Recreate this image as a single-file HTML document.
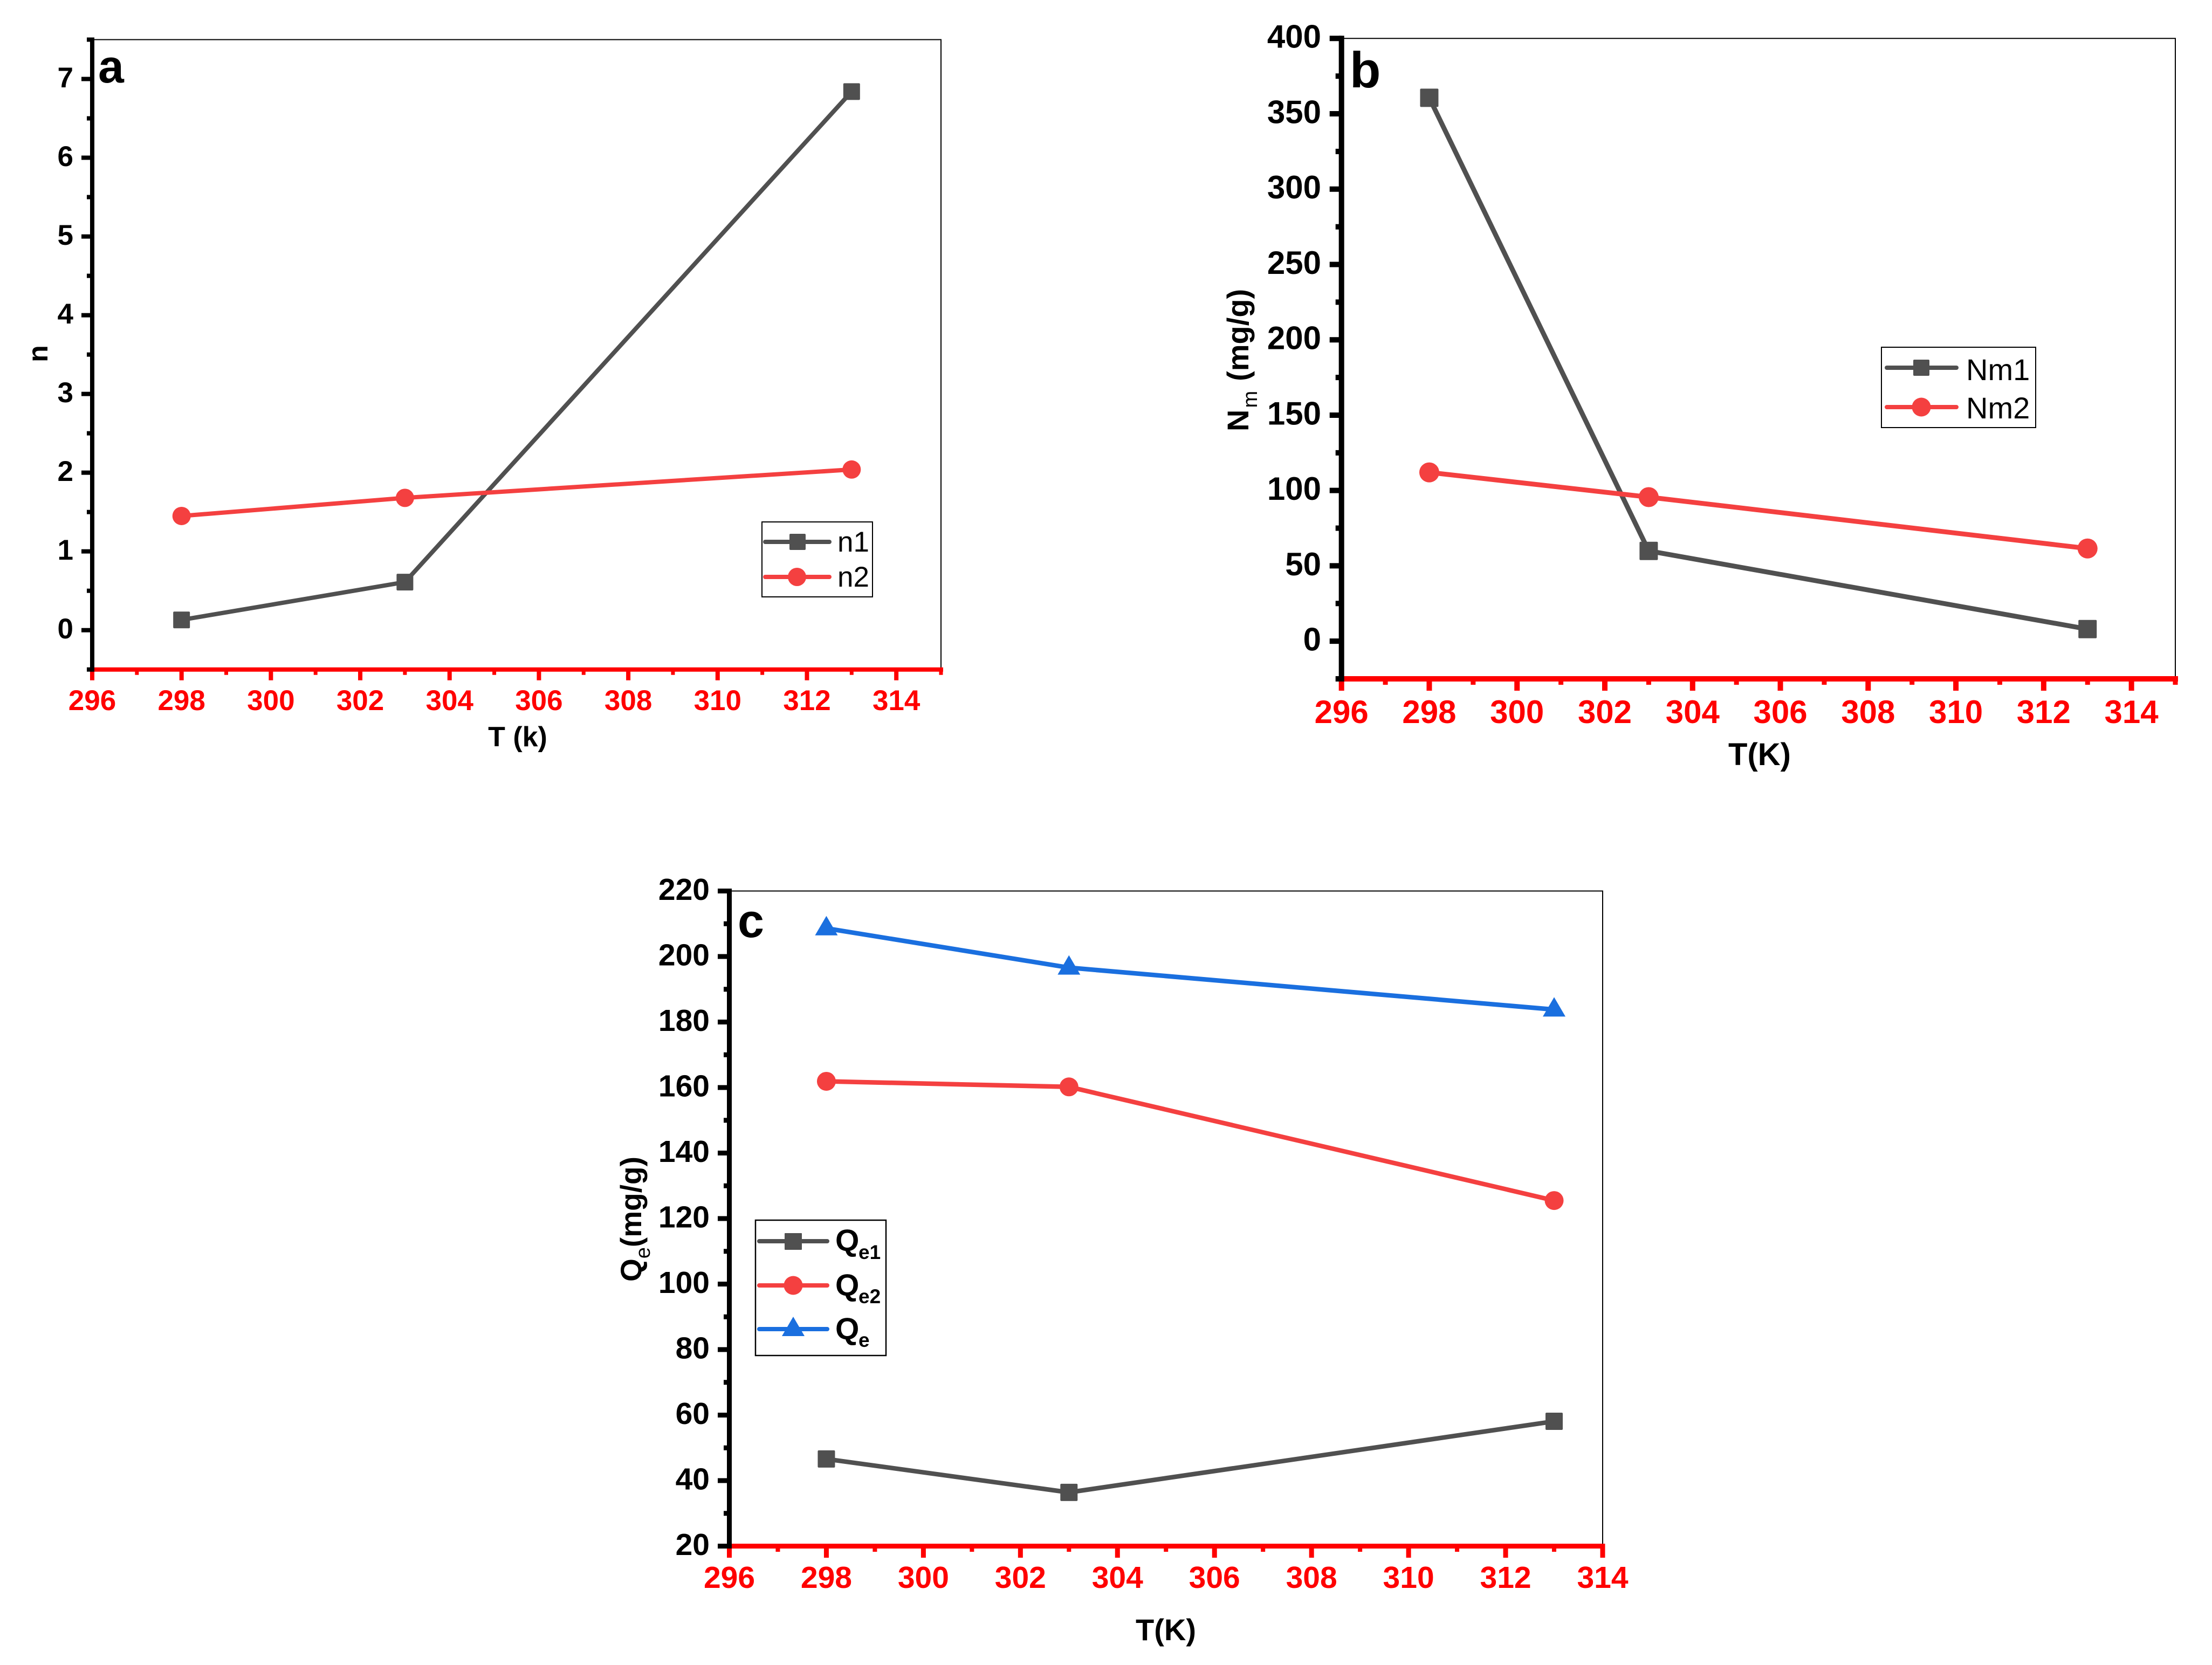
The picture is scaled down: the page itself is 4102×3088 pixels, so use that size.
<!DOCTYPE html>
<html lang="en">
<head>
<meta charset="utf-8">
<title>Isotherm parameters versus temperature</title>
<style>
html,body{margin:0;padding:0;background:#fff;}
svg{display:block;}
text{font-family:"Liberation Sans",sans-serif;fill:#000;}
.b{font-weight:bold;}
</style>
</head>
<body>
<svg id="figure" xmlns="http://www.w3.org/2000/svg" width="4102" height="3088" viewBox="0 0 4102 3088">
  <rect x="0" y="0" width="4102" height="3088" fill="#fff"/>
  <g id="panel-a"></g>
  <g id="panel-b"></g>
  <g id="panel-c"></g>

  <!-- panel a text -->
  <text class="b" x="182" y="153" font-size="86">a</text>
  <text class="b" x="960" y="1384" font-size="52" text-anchor="middle">T (k)</text>
  <text class="b" transform="translate(88,656) rotate(-90)" font-size="52" text-anchor="middle">n</text>
  <g>
    <rect x="1413" y="968" width="205" height="139" fill="#fff" stroke="#000" stroke-width="2"/>
    <g>
      <line x1="1419" y1="1005" x2="1538" y2="1005" stroke="#505050" stroke-width="8" stroke-linecap="round"/>
      <rect x="1464" y="990" width="30" height="30" rx="2" fill="#505050"/>
      <text x="1553" y="1023" font-size="53">n1</text>
    </g>
    <g>
      <line x1="1419" y1="1070" x2="1538" y2="1070" stroke="#f44040" stroke-width="8" stroke-linecap="round"/>
      <circle cx="1478" cy="1070" r="17" fill="#f44040"/>
      <text x="1553" y="1088" font-size="53">n2</text>
    </g>
  </g>

  <!-- panel b text -->
  <text class="b" x="2503" y="162" font-size="94">b</text>
  <text class="b" x="3263" y="1419" font-size="58" text-anchor="middle">T(K)</text>
  <text class="b" transform="translate(2315,800) rotate(-90)" font-size="56">N<tspan dx="3" dy="16" font-size="38" font-weight="normal">m</tspan><tspan dx="18" dy="-16">(mg/g)</tspan></text>
  <g>
    <rect x="3489" y="644" width="286" height="149" fill="#fff" stroke="#000" stroke-width="2"/>
    <g>
      <line x1="3499" y1="682" x2="3628" y2="682" stroke="#505050" stroke-width="8" stroke-linecap="round"/>
      <rect x="3548" y="667" width="30" height="30" rx="2" fill="#505050"/>
      <text x="3646" y="705" font-size="56">Nm1</text>
    </g>
    <g>
      <line x1="3499" y1="755" x2="3628" y2="755" stroke="#f44040" stroke-width="8" stroke-linecap="round"/>
      <circle cx="3563" cy="755" r="17.5" fill="#f44040"/>
      <text x="3646" y="776" font-size="56">Nm2</text>
    </g>
  </g>

  <!-- panel c text -->
  <text class="b" x="1368" y="1738" font-size="88">c</text>
  <text class="b" x="2162" y="3042" font-size="56" text-anchor="middle">T(K)</text>
  <text class="b" transform="translate(1189,2377) rotate(-90)" font-size="55">Q<tspan dy="16" font-size="38" font-weight="normal">e</tspan><tspan dy="-16">(mg/g)</tspan></text>
  <g>
    <rect x="1401" y="2263" width="242" height="251" fill="#fff" stroke="#000" stroke-width="2.5"/>
    <g>
      <line x1="1408" y1="2302" x2="1534" y2="2302" stroke="#505050" stroke-width="8" stroke-linecap="round"/>
      <rect x="1455" y="2287" width="32" height="31" rx="1" fill="#505050"/>
      <text class="b" x="1549" y="2320" font-size="57">Q</text>
      <text class="b" x="1592" y="2335" font-size="37">e1</text>
    </g>
    <g>
      <line x1="1408" y1="2384" x2="1534" y2="2384" stroke="#f44040" stroke-width="8" stroke-linecap="round"/>
      <circle cx="1471" cy="2384" r="17.5" fill="#f44040"/>
      <text class="b" x="1549" y="2403" font-size="57">Q</text>
      <text class="b" x="1592" y="2417" font-size="37">e2</text>
    </g>
    <g>
      <line x1="1408" y1="2465" x2="1534" y2="2465" stroke="#1a6fdf" stroke-width="8" stroke-linecap="round"/>
      <polygon points="1471,2442 1492,2478 1450,2478" fill="#1a6fdf"/>
      <text class="b" x="1549" y="2484" font-size="57">Q</text>
      <text class="b" x="1592" y="2498" font-size="37">e</text>
    </g>
  </g>
</svg>

<script>
// Shared x axis ticks
const xMajorTicks = [296, 298, 300, 302, 304, 306, 308, 310, 312, 314];
const temperatures = [298, 303, 313];

// Panel a
const aXMinorTicks = [297, 299, 301, 303, 305, 307, 309, 311, 313, 315];
const aYMajorTicks = [0, 1, 2, 3, 4, 5, 6, 7];
const aYMinorTicks = [-0.5, 0.5, 1.5, 2.5, 3.5, 4.5, 5.5, 6.5, 7.5];
const n1Values = [0.13, 0.61, 6.84];
const n2Values = [1.45, 1.68, 2.04];

// Panel b
const bXMinorTicks = [297, 299, 301, 303, 305, 307, 309, 311, 313, 315];
const bYMajorTicks = [0, 50, 100, 150, 200, 250, 300, 350, 400];
const bYMinorTicks = [-25, 25, 75, 125, 175, 225, 275, 325, 375];
const nm1Values = [360.6, 59.9, 8];
const nm2Values = [112, 95.6, 61.5];

// Panel c
const cXMinorTicks = [297, 299, 301, 303, 305, 307, 309, 311, 313];
const cYMajorTicks = [20, 40, 60, 80, 100, 120, 140, 160, 180, 200, 220];
const cYMinorTicks = [30, 50, 70, 90, 110, 130, 150, 170, 190, 210];
const qe1Values = [46.6, 36.4, 58.1];
const qe2Values = [161.9, 160.2, 125.5];
const qeValues = [208.6, 196.6, 183.8];

const GRAY = '#505050';
const RED = '#f44040';
const BLUE = '#1a6fdf';
const SVG_NS = 'http://www.w3.org/2000/svg';

function mk(parent, tag, attrs, label) {
  const el = document.createElementNS(SVG_NS, tag);
  for (const k in attrs) el.setAttribute(k, attrs[k]);
  
  if (label !== undefined) el.textContent = label;
  parent.appendChild(el);
  return el;
}

function xAt(p, v) { return p.left + (v - p.xMin) / (p.xMax - p.xMin) * (p.right - p.left); }
function yAt(p, v) { return p.bottom - (v - p.yMin) / (p.yMax - p.yMin) * (p.bottom - p.top); }

function drawAxes(p, root, xMinor, yMajor, yMinor) {
  const frame = mk(root, 'path', {
    d: 'M' + p.left + ' ' + p.top + 'H' + p.right + 'V' + p.bottom,
    fill: 'none', stroke: '#000', 'stroke-width': 2
  });
  

  const xAxis = mk(root, 'line', {
    x1: p.left, y1: p.bottom, x2: p.right + p.axisW / 2, y2: p.bottom,
    stroke: '#ff0000', 'stroke-width': p.axisW
  });
  

  xMajorTicks.forEach(function (t) {
    const x = xAt(p, t);
    const tick = mk(root, 'line', {
      x1: x, y1: p.bottom, x2: x, y2: p.bottom + p.axisW / 2 + p.majorLen,
      stroke: '#ff0000', 'stroke-width': p.axisW
    });
    
    const label = mk(root, 'text', {
      x: x, y: p.xLabelY, 'text-anchor': 'middle', 'font-size': p.labelSize, 'font-weight': 'bold',
      style: 'fill:#ff0000'
    }, String(t));
    
  });
  xMinor.forEach(function (t) {
    const x = xAt(p, t);
    const tick = mk(root, 'line', {
      x1: x, y1: p.bottom, x2: x, y2: p.bottom + p.axisW / 2 + p.minorLen,
      stroke: '#ff0000', 'stroke-width': p.axisW - 1
    });
    
  });

  const yAxis = mk(root, 'line', {
    x1: p.left, y1: p.bottom + p.axisW / 2, x2: p.left, y2: p.top - p.axisW / 2,
    stroke: '#000', 'stroke-width': p.axisW
  });
  

  yMajor.forEach(function (t) {
    const y = yAt(p, t);
    const tick = mk(root, 'line', {
      x1: p.left, y1: y, x2: p.left - p.axisW / 2 - p.majorLen, y2: y,
      stroke: '#000', 'stroke-width': p.axisW
    });
    
    const label = mk(root, 'text', {
      x: p.yLabelX, y: y + p.labelSize * 0.29, 'text-anchor': 'end', 'font-size': p.labelSize, 'font-weight': 'bold'
    }, String(t));
    
  });
  yMinor.forEach(function (t) {
    const y = yAt(p, t);
    const tick = mk(root, 'line', {
      x1: p.left, y1: y, x2: p.left - p.axisW / 2 - p.minorLen, y2: y,
      stroke: '#000', 'stroke-width': p.axisW
    });
    
  });
}

function drawSeries(p, root, xs, ys, color, marker, name) {
  const pts = xs.map(function (x, i) { return xAt(p, x) + ',' + yAt(p, ys[i]); }).join(' ');
  const line = mk(root, 'polyline', {
    points: pts, fill: 'none', stroke: color, 'stroke-width': p.lineW, 'stroke-linejoin': 'round'
  });
  
  xs.forEach(function (x, i) {
    const cx = xAt(p, x);
    const cy = yAt(p, ys[i]);
    const half = p.markerSize / 2;
    let m;
    if (marker === 'square') {
      m = mk(root, 'rect', { x: cx - half, y: cy - half, width: p.markerSize, height: p.markerSize, rx: 2, fill: color });
    } else if (marker === 'circle') {
      m = mk(root, 'circle', { cx: cx, cy: cy, r: half + 1.5, fill: color });
    } else {
      m = mk(root, 'polygon', {
        points: cx + ',' + (cy - 23) + ' ' + (cx + 21) + ',' + (cy + 13) + ' ' + (cx - 21) + ',' + (cy + 13),
        fill: color
      });
    }
    
  });
}

const panelA = { left: 171, right: 1745, top: 73.5, bottom: 1241.7, xMin: 296, xMax: 315, yMin: -0.5, yMax: 7.5,
  axisW: 8, majorLen: 16, minorLen: 6, labelSize: 53, xLabelY: 1317, yLabelX: 136, lineW: 8, markerSize: 31 };
const panelB = { left: 2487.7, right: 4034, top: 71.3, bottom: 1259, xMin: 296, xMax: 315, yMin: -25, yMax: 400,
  axisW: 10, majorLen: 17, minorLen: 6, labelSize: 60, xLabelY: 1341, yLabelX: 2450, lineW: 9, markerSize: 34 };
const panelC = { left: 1352.5, right: 2972, top: 1652.5, bottom: 2867.5, xMin: 296, xMax: 314, yMin: 20, yMax: 220,
  axisW: 9, majorLen: 17, minorLen: 6, labelSize: 57, xLabelY: 2945, yLabelX: 1316, lineW: 8.5, markerSize: 32 };

const groupA = document.getElementById('panel-a');
const groupB = document.getElementById('panel-b');
const groupC = document.getElementById('panel-c');

drawAxes(panelA, groupA, aXMinorTicks, aYMajorTicks, aYMinorTicks);
drawSeries(panelA, groupA, temperatures, n1Values, GRAY, 'square', 'n1');
drawSeries(panelA, groupA, temperatures, n2Values, RED, 'circle', 'n2');

drawAxes(panelB, groupB, bXMinorTicks, bYMajorTicks, bYMinorTicks);
drawSeries(panelB, groupB, temperatures, nm1Values, GRAY, 'square', 'nm1');
drawSeries(panelB, groupB, temperatures, nm2Values, RED, 'circle', 'nm2');

drawAxes(panelC, groupC, cXMinorTicks, cYMajorTicks, cYMinorTicks);
drawSeries(panelC, groupC, temperatures, qe1Values, GRAY, 'square', 'qe1');
drawSeries(panelC, groupC, temperatures, qe2Values, RED, 'circle', 'qe2');
drawSeries(panelC, groupC, temperatures, qeValues, BLUE, 'triangle', 'qe');
</script>
</body>
</html>
